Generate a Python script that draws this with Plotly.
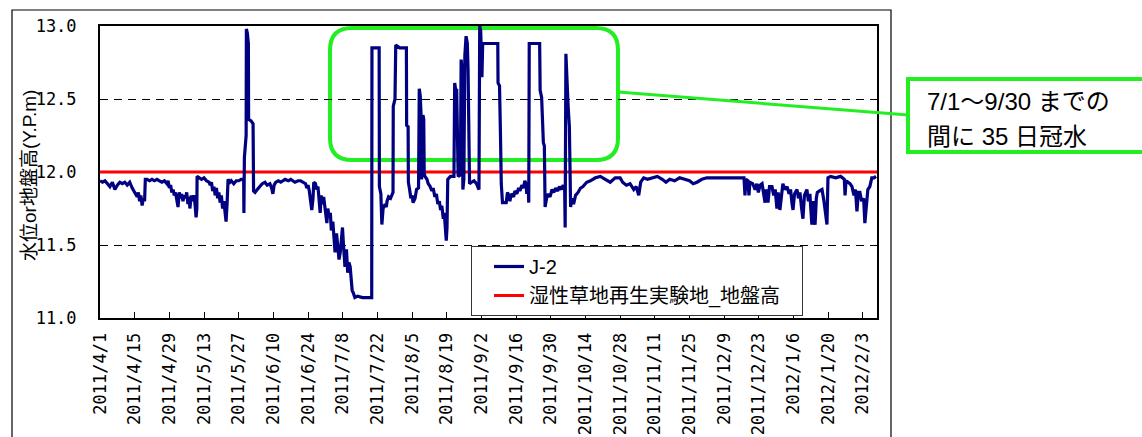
import datetime as dt
import plotly.graph_objects as go

# ---------------- data ----------------
start_date = "2011-04-01"
end_date = "2012-02-08 16:48"

# elapsed days since 2011-04-01 and measured water level (Y.P.m) of well J-2
elapsed_days = [
    0, 1, 2, 3, 4, 5, 6, 7, 8, 9, 10, 11, 12, 13, 14, 15, 15.5, 16, 16.5, 17, 17.5, 18, 18.3,
    19, 20, 21, 22, 23, 24, 25, 26, 27, 27.5, 28, 28.5, 29, 29.5, 30, 30.5, 31, 31.5, 32, 32.5,
    33, 33.5, 34, 34.5, 35, 35.5, 36, 36.3, 36.8, 37.2, 37.8, 38.3, 38.8, 39.1, 39.2,
    40, 41, 42, 43, 44, 44.5, 45, 45.5, 46, 46.5, 47, 47.5, 48, 48.5, 49, 49.5, 50, 50.5, 50.9,
    51.3, 51.7, 52.5, 53, 54, 55, 56, 57, 58.0,
    58.1, 58.3, 59.0, 59.1, 59.5, 59.9, 60.0, 61.0, 61.8, 62.0,
    62.6, 63.5, 64.6, 65.5, 66.6, 67.5, 68.6, 69.3, 69.8, 70.3, 71, 72, 73, 74.7, 76, 77, 78.7, 80,
    81, 82, 83, 83.5, 84, 84.5, 85, 85.5, 86, 86.3, 87, 87.5, 88, 88.5, 88.9, 89.3, 89.8, 90.3,
    90.8, 91.6, 92, 92.5, 93, 93.4, 94, 94.9, 95.5, 96, 96.5, 97, 97.5, 97.9, 98.3, 98.9, 99.5,
    100, 100.5, 101, 101.5, 101.8, 102.3, 102.9, 104, 106, 108, 109.7,
    109.8, 111, 112.7, 112.8, 113.4, 113.8, 114.3, 115.1, 115.6, 115.9, 116.5, 117.3, 118.0, 118.3,
    118.4, 119.1, 119.4, 121, 123.7, 123.8, 124.4, 124.5, 125, 125.5, 126.0, 126.4, 127.2, 127.8,
    128.6, 128.9, 129.3, 129.6, 129.8, 130.2, 130.4, 130.7, 130.9,
    131.2, 132, 132.5, 133.3, 134, 134.5, 135.2, 135.8, 136.4, 137, 137.5, 138, 138.6, 139, 139.4,
    139.8, 140.1, 140.4,
    141.5, 142.9, 143.2, 143.7, 144.0, 144.3, 144.6, 145.5, 145.8, 146.2, 146.5, 146.9, 147.3,
    147.8, 148.3, 148.6, 148.9, 149.2, 150, 151, 152, 152.6, 153.0, 153.3, 153.7, 154.2, 154.5,
    157, 160.6, 160.7, 161.3, 161.7, 162.0, 162.5, 164.0, 164.5,
    165, 165.5, 166, 167, 167.5, 168.3, 169, 169.5, 170.3, 171, 171.5, 172.0, 172.3, 172.8, 173.1,
    173.3, 177.5, 177.7, 178.3, 178.6, 179.0, 179.4, 179.7,
    180.3, 181, 181.7, 182.5, 183.2, 184, 184.8, 185.5, 186.3, 187, 187.6, 187.8, 188.1, 188.5,
    189.0, 189.5, 189.7, 190.0, 190.5, 191.2, 192, 193, 194, 195, 196.5, 198,
    200, 202, 204, 206, 208, 210, 211, 212.5, 214, 215.5, 216.5, 217.5, 218.3, 219.5, 221, 223,
    225, 227, 228.5, 230, 232, 234, 236, 238, 239.5, 241, 243, 245, 248, 251, 254, 257, 260,
    260.4, 260.8, 261.6, 262.0, 262.4, 263.5, 264.5, 265.2, 265.8, 266.5, 267.3, 268.0, 268.5,
    269.0, 269.7, 270.3, 271.3, 272.0, 272.6, 273.3, 273.8, 274.5, 275.0, 275.7, 276.5, 277.4,
    278.2, 278.8, 279.4, 279.8, 280.4, 281.4, 282.0, 282.6, 283.2, 283.8, 284.4, 285.4, 286.0,
    286.6, 287.4, 287.9, 288.4, 288.7, 289.2, 289.6, 290.5, 291.5, 292.3, 293.0, 293.5, 293.9,
    295, 297, 299, 300.5, 300.8, 301.2, 302.0, 302.8, 303.6, 304.4, 305.0, 305.6, 306.2, 306.8,
    307.5, 308.3, 308.8, 309.3, 310.0, 310.8, 311.6, 312.5, 313.3,
]

water_level = [
    11.94, 11.93, 11.94, 11.92, 11.90, 11.93, 11.88, 11.91, 11.93, 11.92, 11.93, 11.91, 11.93,
    11.89, 11.86, 11.83, 11.86, 11.80, 11.84, 11.77, 11.82, 11.80, 11.95,
    11.95, 11.94, 11.95, 11.94, 11.95, 11.94, 11.93, 11.94, 11.92, 11.94, 11.89, 11.91, 11.86,
    11.88, 11.84, 11.86, 11.80, 11.76, 11.86, 11.82, 11.85, 11.80, 11.84, 11.82, 11.86, 11.78,
    11.83, 11.75, 11.84, 11.80, 11.84, 11.79, 11.69, 11.75, 11.97,
    11.96, 11.95, 11.96, 11.94, 11.93, 11.91, 11.93, 11.87, 11.90, 11.84, 11.89, 11.82, 11.86,
    11.79, 11.84, 11.75, 11.80, 11.70, 11.66, 11.78, 11.95, 11.93, 11.94, 11.92, 11.94, 11.94,
    11.95, 11.95,
    11.72, 12.10, 12.25, 12.98, 12.95, 12.88, 12.36, 12.35, 12.33, 11.87,
    11.86, 11.88, 11.90, 11.92, 11.93, 11.91, 11.92, 11.89, 11.85, 11.91, 11.93, 11.94, 11.93,
    11.95, 11.94, 11.95, 11.93, 11.94,
    11.94, 11.93, 11.92, 11.89, 11.91, 11.87, 11.82, 11.74, 11.82, 11.93, 11.92, 11.88, 11.90,
    11.81, 11.72, 11.84, 11.78, 11.83, 11.76, 11.65, 11.75, 11.69, 11.72, 11.60, 11.66, 11.45,
    11.58, 11.50, 11.40, 11.45, 11.58, 11.62, 11.50, 11.35, 11.47, 11.31, 11.38, 11.35, 11.25,
    11.19, 11.17, 11.14, 11.15, 11.14, 11.14, 11.14,
    12.85, 12.85, 12.85, 11.90, 11.85, 11.64, 11.75, 11.78, 11.76, 11.80, 11.83, 11.82, 11.86,
    11.86, 12.45, 12.50, 12.87, 12.85, 12.85, 12.32, 12.31, 11.93, 11.88, 11.82, 11.84, 11.79,
    11.82, 11.88, 11.89, 12.57, 12.52, 12.40, 11.95, 12.00, 12.39, 12.36, 11.99,
    11.97, 11.95, 11.92, 11.90, 11.87, 11.89, 11.83, 11.85, 11.78, 11.80, 11.74, 11.77, 11.68,
    11.72, 11.60, 11.53, 11.62, 11.95,
    11.97, 11.97, 12.61, 12.55, 12.57, 12.10, 11.97, 11.98, 12.77, 12.70, 11.88, 11.95, 12.80,
    12.93, 12.88, 12.70, 12.42, 11.92, 11.93, 11.94, 11.92, 11.90, 11.88, 13.00, 12.97, 12.65,
    12.88, 12.88, 12.88, 12.61, 12.59, 12.24, 11.92, 11.79, 11.79, 11.86,
    11.84, 11.80, 11.85, 11.83, 11.87, 11.85, 11.89, 11.87, 11.91, 11.89, 11.94, 11.92, 11.85,
    11.93, 11.79,
    12.88, 12.88, 12.56, 12.51, 12.38, 12.20, 12.18, 11.76,
    11.82, 11.85, 11.83, 11.88, 11.86, 11.89, 11.87, 11.90, 11.88, 11.91, 11.88, 11.62, 12.81,
    12.60, 12.45, 12.31, 12.00, 11.76, 11.82, 11.78, 11.84, 11.86, 11.89, 11.90, 11.93, 11.94,
    11.96, 11.97, 11.95, 11.93, 11.96, 11.96, 11.93, 11.91, 11.92, 11.88, 11.90, 11.84, 11.93,
    11.96, 11.95, 11.96, 11.97, 11.95, 11.93, 11.95, 11.94, 11.96, 11.95, 11.94, 11.92, 11.93,
    11.95, 11.96, 11.96, 11.96, 11.96, 11.96, 11.96,
    11.84, 11.95, 11.94, 11.84, 11.93, 11.92, 11.88, 11.92, 11.86, 11.91, 11.92, 11.85, 11.79,
    11.88, 11.79, 11.90, 11.90, 11.84, 11.88, 11.75, 11.86, 11.74, 11.83, 11.92, 11.88, 11.90,
    11.85, 11.88, 11.78, 11.74, 11.85, 11.88, 11.82, 11.86, 11.76, 11.68, 11.84, 11.88, 11.80,
    11.85, 11.64, 11.80, 11.66, 11.64, 11.82, 11.86, 11.87, 11.88, 11.80, 11.70, 11.64, 11.96,
    11.97, 11.96, 11.97, 11.95, 11.84, 11.94, 11.93, 11.92, 11.90, 11.84, 11.88, 11.73, 11.86,
    11.86, 11.80, 11.82, 11.65, 11.75, 11.88, 11.90, 11.96, 11.96, 11.97,
]

ground_level = 12.0  # 湿性草地再生実験地_地盤高

tick_dates = [
    "2011-04-01", "2011-04-15", "2011-04-29", "2011-05-13", "2011-05-27", "2011-06-10",
    "2011-06-24", "2011-07-08", "2011-07-22", "2011-08-05", "2011-08-19", "2011-09-02",
    "2011-09-16", "2011-09-30", "2011-10-14", "2011-10-28", "2011-11-11", "2011-11-25",
    "2011-12-09", "2011-12-23", "2012-01-06", "2012-01-20", "2012-02-03",
]
tick_labels = [
    "2011/4/1", "2011/4/15", "2011/4/29", "2011/5/13", "2011/5/27", "2011/6/10",
    "2011/6/24", "2011/7/8", "2011/7/22", "2011/8/5", "2011/8/19", "2011/9/2",
    "2011/9/16", "2011/9/30", "2011/10/14", "2011/10/28", "2011/11/11", "2011/11/25",
    "2011/12/9", "2011/12/23", "2012/1/6", "2012/1/20", "2012/2/3",
]

series_names = ["J-2", "湿性草地再生実験地_地盤高"]
callout_lines = ["7/1〜9/30 までの", "間に 35 日冠水"]
y_title = "水位or地盤高(Y.P.m)"

# --------------- build ---------------
t0 = dt.datetime.strptime(start_date, "%Y-%m-%d")
dates = [t0 + dt.timedelta(days=d) for d in elapsed_days]

TXT = "Liberation Sans, Noto Sans CJK JP, sans-serif"
MONO = "DejaVu Sans Mono, monospace"
GREEN = "#22ee22"
PAD = "\u00a0\u00a0\u00a0"  # extra room at the right of the legend box

fig = go.Figure()
fig.add_trace(go.Scatter(
    x=[start_date, end_date], y=[ground_level, ground_level], mode="lines",
    name=series_names[1] + PAD, line=dict(color="#ff0000", width=3),
))
fig.add_trace(go.Scatter(
    x=dates, y=water_level, mode="lines", name=series_names[0],
    line=dict(color="#000080", width=3.2),
))

# paper-coordinate helpers for decorations (plot area: x 100..877 px, y 26..318 px)
W, H = 777.0, 292.0
def px(x):
    return (x - 100) / W
def py(y):
    return (318 - y) / H

# rounded rectangle highlight
x0, x1, yb, yt = px(330), px(618), py(160), py(28)
rx, ry = 22 / W, 22 / H
path = (f"M {x0+rx},{yt} L {x1-rx},{yt} Q {x1},{yt} {x1},{yt-ry} L {x1},{yb+ry} "
        f"Q {x1},{yb} {x1-rx},{yb} L {x0+rx},{yb} Q {x0},{yb} {x0},{yb+ry} "
        f"L {x0},{yt-ry} Q {x0},{yt} {x0+rx},{yt} Z")

shapes = [
    # outer chart frame
    dict(type="rect", xref="paper", yref="paper", x0=px(12), x1=px(891), y0=py(460), y1=py(10),
         line=dict(color="black", width=1.2), layer="below"),
    dict(type="path", xref="paper", yref="paper", path=path,
         line=dict(color=GREEN, width=4), layer="below"),
    dict(type="line", xref="paper", yref="paper", x0=px(618), y0=py(92), x1=px(908), y1=py(115),
         line=dict(color=GREEN, width=3), layer="above"),
    dict(type="rect", xref="paper", yref="paper", x0=px(908), x1=px(1160), y0=py(152), y1=py(79),
         line=dict(color=GREEN, width=4), fillcolor="white", layer="above"),
]

annotations = [
    dict(xref="paper", yref="paper", x=px(925), y=py(101), xanchor="left", yanchor="middle",
         text=callout_lines[0], showarrow=False, font=dict(family=TXT, size=24, color="black")),
    dict(xref="paper", yref="paper", x=px(925), y=py(136), xanchor="left", yanchor="middle",
         text=callout_lines[1], showarrow=False, font=dict(family=TXT, size=24, color="black")),
    # y-axis title
    dict(xref="paper", yref="paper", x=px(29), y=py(176), xanchor="center", yanchor="middle",
         text=y_title, textangle=-90, showarrow=False,
         font=dict(family=TXT, size=19, color="black")),
]

fig.update_layout(
    width=1142, height=437,
    margin=dict(l=100, r=265, t=26, b=119, autoexpand=False),
    paper_bgcolor="white", plot_bgcolor="white",
    showlegend=True,
    legend=dict(
        x=px(471), y=py(246), xanchor="left", yanchor="top",
        bgcolor="white", bordercolor="#333333", borderwidth=1,
        traceorder="reversed",
        font=dict(family=TXT, size=20, color="black"),
    ),
    shapes=shapes,
    annotations=annotations,
    xaxis=dict(
        type="date", range=[start_date, end_date], automargin=False,
        tickmode="array", tickvals=tick_dates, ticktext=tick_labels, tickangle=-90,
        ticks="inside", ticklen=6, tickcolor="black", tickwidth=1,
        showgrid=False, zeroline=False,
        showline=True, mirror=True, linecolor="black", linewidth=2,
        tickfont=dict(family=MONO, size=17, color="black"),
        ticklabelstandoff=6,
    ),
    yaxis=dict(
        range=[11.0, 13.0], dtick=0.5, tick0=11.0, tickformat=".1f", automargin=False,
        ticks="", showgrid=True, gridcolor="black", gridwidth=1, griddash="8px,6px",
        zeroline=False, showline=True, mirror=True, linecolor="black", linewidth=2,
        tickfont=dict(family=MONO, size=17, color="black"),
        ticklabelstandoff=18,
    ),
)
try:
    fig.update_layout(legend_indentation=17)
except Exception:
    pass

fig.write_html(
    "out.html",
    config={"displayModeBar": False},
    post_script="document.body.style.margin='0';document.body.style.padding='0';",
)
